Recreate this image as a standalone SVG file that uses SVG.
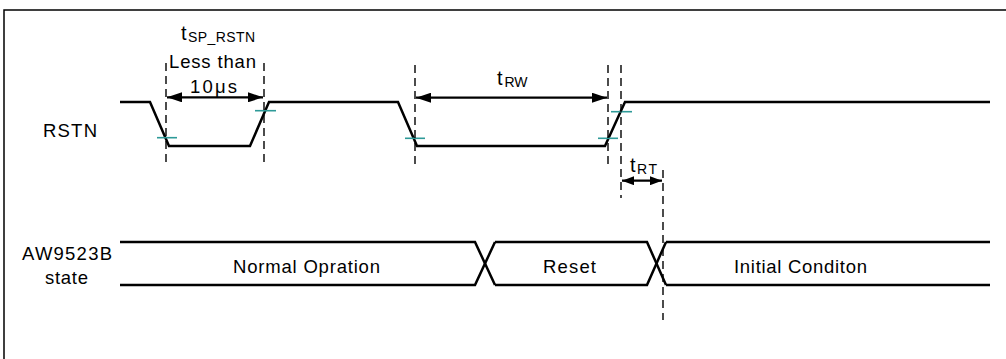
<svg xmlns="http://www.w3.org/2000/svg" width="1006" height="359" viewBox="0 0 1006 359">
<style>
.sig{fill:none;stroke:#000;stroke-width:2.5;stroke-linejoin:miter}
.dash{fill:none;stroke:#000;stroke-width:1.4;stroke-dasharray:8,5}
.tick{stroke:#2e9a98;stroke-width:1.6}
.dim{stroke:#000;stroke-width:2.2;fill:none}
text{font-family:"Liberation Sans",Arial,Helvetica,sans-serif;fill:#000}
.lbl{font-size:18.5px}
.t{font-size:20px}
.sub{font-size:14px}
</style>
<defs>
<marker id="ah" viewBox="0 0 15 10" refX="15" refY="5" markerWidth="15" markerHeight="10" markerUnits="userSpaceOnUse" orient="auto-start-reverse">
<path d="M0,0 L15,5 L0,10 Z" fill="#000"/>
</marker>
<marker id="ahs" viewBox="0 0 12 9" refX="12" refY="4.5" markerWidth="12" markerHeight="9" markerUnits="userSpaceOnUse" orient="auto-start-reverse">
<path d="M0,0 L12,4.5 L0,9 Z" fill="#000"/>
</marker>
</defs>
<rect x="4" y="10" width="1010" height="360" fill="#fff" stroke="#000" stroke-width="1.5"/>

<g id="rstn-label"><text class="lbl" x="43" y="137" textLength="54" lengthAdjust="spacing">RSTN</text></g>
<g id="rstn-signal">
<polyline class="sig" points="120,102 150,102 169,146 250,146 269,102 398,102 417,146 605,146 625,102 990,102"/>
<line class="tick" x1="157" y1="137.7" x2="177" y2="137.7"/>
<line class="tick" x1="255" y1="110.7" x2="276" y2="110.7"/>
<line class="tick" x1="405" y1="138.3" x2="425" y2="138.3"/>
<line class="tick" x1="598" y1="138.3" x2="618" y2="138.3"/>
<line class="tick" x1="611" y1="111.7" x2="632" y2="111.7"/>
</g>

<g id="state-label">
<text class="lbl" x="22" y="260" textLength="90" lengthAdjust="spacing">AW9523B</text>
<text class="lbl" x="45" y="284" textLength="43" lengthAdjust="spacing">state</text>
</g>
<g id="state-normal">
<polyline class="sig" points="120,242 475,242 495,285"/>
<polyline class="sig" points="120,285 475,285 495,242"/>
<text class="lbl" x="233" y="273" textLength="147" lengthAdjust="spacing">Normal Opration</text>
</g>
<g id="state-reset">
<polyline class="sig" points="495,242 647,242 666,285"/>
<polyline class="sig" points="495,285 647,285 666,242"/>
<text class="lbl" x="543" y="273" textLength="53" lengthAdjust="spacing">Reset</text>
</g>
<g id="state-initial">
<polyline class="sig" points="666,242 990,242"/>
<polyline class="sig" points="666,285 990,285"/>
<text class="lbl" x="734" y="273" textLength="133" lengthAdjust="spacing">Initial Conditon</text>
</g>

<g id="label-tsp">
<text class="t" x="181" y="40">t</text>
<text class="sub" x="188" y="42" textLength="67" lengthAdjust="spacing">SP_RSTN</text>
<text class="lbl" x="169" y="68" textLength="87" lengthAdjust="spacing">Less than</text>
<text class="lbl" x="190" y="93" textLength="47" lengthAdjust="spacing">10μs</text>
</g>
<g id="label-trw">
<text class="t" x="497" y="85">t</text>
<text class="sub" x="504.5" y="87">RW</text>
</g>
<g id="label-trt">
<text class="t" x="630" y="172">t</text>
<text class="sub" x="637" y="174" textLength="20" lengthAdjust="spacing">RT</text>
</g>

<g id="connectors">
<line class="dash" x1="166" y1="63" x2="166" y2="164"/>
<line class="dash" x1="264" y1="63" x2="264" y2="164"/>
<line class="dash" x1="415" y1="65" x2="415" y2="164"/>
<line class="dash" x1="608" y1="65" x2="608" y2="164"/>
<line class="dash" x1="621" y1="65" x2="621" y2="198"/>
<line class="dash" x1="663" y1="170" x2="663" y2="320"/>
<line class="dim" x1="167" y1="97.3" x2="263" y2="97.3" marker-start="url(#ah)" marker-end="url(#ah)"/>
<line class="dim" x1="416" y1="97.7" x2="607" y2="97.7" marker-start="url(#ah)" marker-end="url(#ah)"/>
<line class="dim" x1="622" y1="180.7" x2="662" y2="180.7" marker-start="url(#ahs)" marker-end="url(#ahs)"/>
</g>
</svg>
